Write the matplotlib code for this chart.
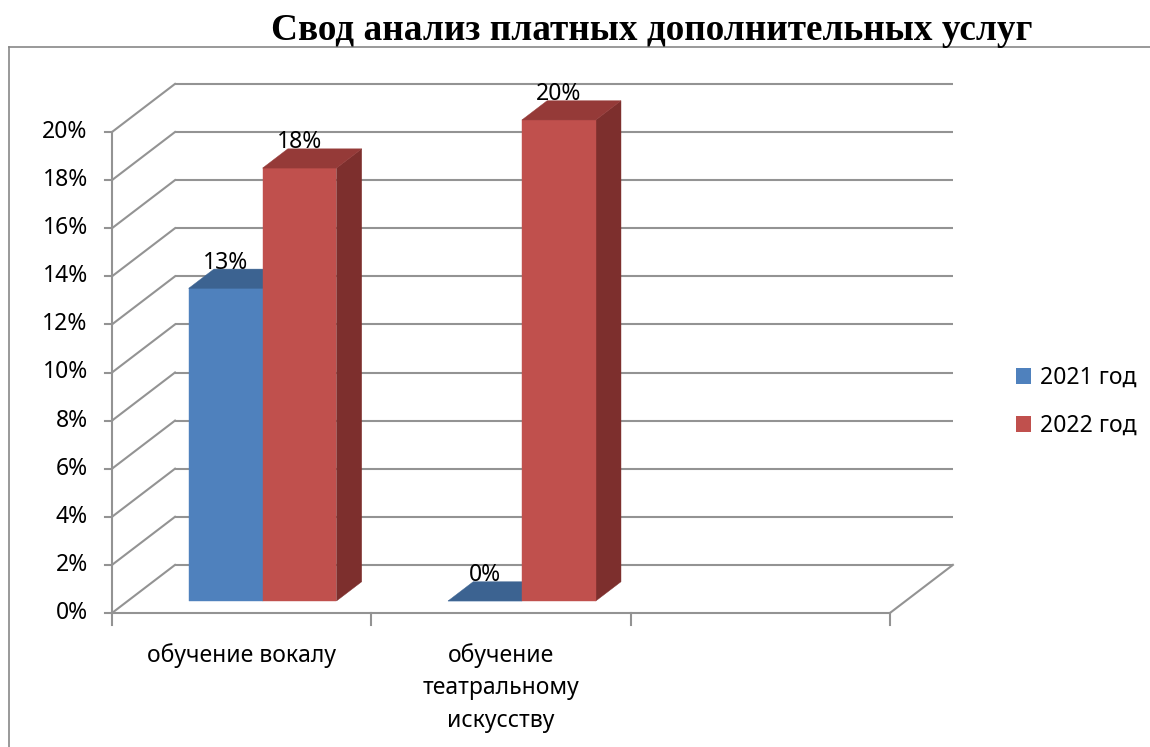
"""
Column chart with a fake 3D look (Excel-style): paid extra services, 2021 vs 2022.
Saves out.png.
"""

import matplotlib
matplotlib.use("Agg")
import matplotlib.pyplot as plt
from matplotlib.lines import Line2D
from matplotlib.patches import Patch, Polygon

title = "Свод анализ платных дополнительных услуг"
categories = ["обучение вокалу", "обучение\nтеатральному\nискусству", ""]
series_names = ["2021 год", "2022 год"]
values_2021 = [13, 0, None]
values_2022 = [18, 20, None]
y_ticks = [0, 2, 4, 6, 8, 10, 12, 14, 16, 18, 20]

# colours: front, top, side
blue = ("#4f81bd", "#3c6391", "#385d8a")
red = ("#c0504d", "#953a38", "#7d2f2d")
grid_color = "#939393"

# oblique projection: one unit of depth moves right and up
DX, DY = 0.243, 2.0
D0, D1 = 0.25, 0.65       # depth of bar front / back
BAR_W = 0.285
GROUP_START = -0.265      # offset of first bar from category centre


def proj(x, v, d):
    return (x + DX * d, v + DY * d)


def draw_bar(ax, x0, x1, v, colors):
    front, top, side = colors
    side_pts = [proj(x1, 0, D0), proj(x1, 0, D1), proj(x1, v, D1), proj(x1, v, D0)]
    front_pts = [proj(x0, 0, D0), proj(x1, 0, D0), proj(x1, v, D0), proj(x0, v, D0)]
    top_pts = [proj(x0, v, D0), proj(x1, v, D0), proj(x1, v, D1), proj(x0, v, D1)]
    for pts, c in ((side_pts, side), (front_pts, front), (top_pts, top)):
        ax.add_patch(Polygon(pts, closed=True, facecolor=c, edgecolor=c,
                             linewidth=0.3, clip_on=False, zorder=3))


W, H = 1150, 747
fig = plt.figure(figsize=(W / 100, H / 100), dpi=100)
fig.patch.set_facecolor("white")

# axes placed so that 1 category = ~259 px and 1% = ~24 px
x_max, y_max = 3.26, 22.1
ax = fig.add_axes([112 / W, (H - 613) / H, x_max * 259.3 / W, y_max * 24.05 / H])
ax.set_xlim(0, x_max)
ax.set_ylim(0, y_max)
ax.axis("off")

font = ["Noto Sans", "DejaVu Sans"]
fs = 16.5
n_cat = len(categories)

# back wall gridlines + left wall diagonals
for v in y_ticks:
    bx, by = proj(0, v, 1)
    ax.plot([bx, bx + n_cat], [by, by], color=grid_color, lw=1.5, zorder=1,
            clip_on=False, solid_capstyle="butt")
    ax.plot([0, bx], [v, by], color=grid_color, lw=1.5, zorder=1, clip_on=False)

# floor edges
fx, fy = proj(n_cat, 0, 1)
ax.plot([0, n_cat], [0, 0], color=grid_color, lw=1.5, zorder=2, clip_on=False)
ax.plot([n_cat, fx], [0, fy], color=grid_color, lw=1.5, zorder=2, clip_on=False)

# value axis
ax.plot([0, 0], [0, y_ticks[-1]], color=grid_color, lw=1.5, zorder=2, clip_on=False)
for v in y_ticks:
    ax.plot([-0.027, 0], [v, v], color=grid_color, lw=1.5, zorder=2, clip_on=False)
    ax.annotate(f"{v}%", (0, v), xytext=(-17.5, 0), textcoords="offset points",
                ha="right", va="center", fontsize=fs, family=font)

# category axis ticks and labels
for i in range(n_cat + 1):
    ax.plot([i, i], [0, -0.5], color=grid_color, lw=1.5, clip_on=False)
for i, name in enumerate(categories):
    ax.text(i + 0.5, -1.27, name, ha="center", va="top", fontsize=fs,
            family=font, linespacing=1.45)

# bars
for i in range(n_cat):
    x0 = i + 0.5 + GROUP_START
    for vals, colors in ((values_2021, blue), (values_2022, red)):
        v = vals[i]
        if v is not None:
            draw_bar(ax, x0, x0 + BAR_W, v, colors)
            lx, _ = proj(x0 + BAR_W / 2, v, D0)
            _, ly = proj(x0, v, D1)
            ax.text(lx, ly + 0.02, f"{v}%", ha="center", va="baseline",
                    fontsize=fs, family=font, zorder=5)
        x0 += BAR_W

# legend
handles = [Patch(facecolor=blue[0], label=series_names[0]),
           Patch(facecolor=red[0], label=series_names[1])]
fig.legend(handles=handles, loc="center left", bbox_to_anchor=(995 / W, 1 - 402 / H),
           frameon=False, prop={"family": font, "size": 16.5},
           handlelength=0.65, handleheight=0.65, handletextpad=0.4, labelspacing=1.05)

# title and chart frame
fig.text(652 / W, 1 - 30 / H, title, ha="center", va="center", fontsize=26.8,
         fontweight="bold", family=["Liberation Serif", "DejaVu Serif"])
fig.add_artist(Line2D([9 / W, 1], [1 - 47 / H] * 2, color="#878787", lw=1.2))
fig.add_artist(Line2D([9 / W] * 2, [0, 1 - 47 / H], color="#878787", lw=1.2))

fig.savefig("out.png", dpi=100)
